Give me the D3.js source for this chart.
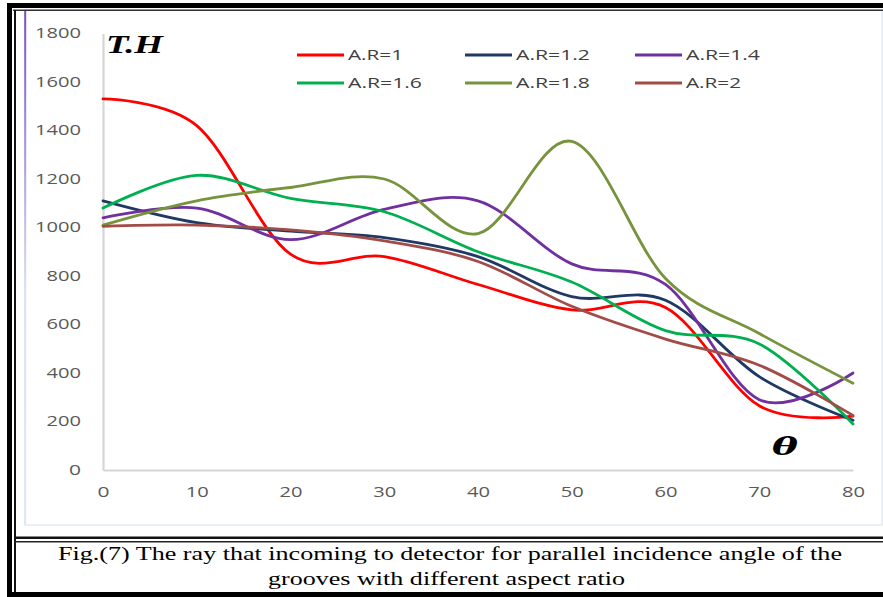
<!DOCTYPE html>
<html>
<head>
<meta charset="utf-8">
<script src="https://cdn.jsdelivr.net/npm/d3@7"></script>
<style>
  html, body { margin: 0; padding: 0; background: #fff; }
  svg { display: block; }
</style>
</head>
<body>
<svg id="chart" width="883" height="597"></svg>
<script>
// ---- data ----
const angles = [0, 10, 20, 30, 40, 50, 60, 70, 80];
const seriesNames = ["A.R=1", "A.R=1.2", "A.R=1.4", "A.R=1.6", "A.R=1.8", "A.R=2"];
const ar1  = [1530, 1420, 890, 880, 765, 660, 670, 265, 222];
const ar12 = [1110, 1020, 985, 958, 880, 715, 700, 385, 205];
const ar14 = [1040, 1080, 950, 1075, 1110, 850, 765, 290, 400];
const ar16 = [1080, 1215, 1120, 1065, 900, 775, 575, 520, 190];
const ar18 = [1010, 1110, 1165, 1200, 975, 1355, 790, 563, 358];
const ar2  = [1005, 1010, 990, 945, 860, 675, 540, 432, 225];
const yTicks = [0, 200, 400, 600, 800, 1000, 1200, 1400, 1600, 1800];
const xTicks = [0, 10, 20, 30, 40, 50, 60, 70, 80];
const yTitle = "T.H";
const xTitle = "\u03B8";
const captionLines = [
  "Fig.(7) The ray that incoming to detector for parallel incidence angle of the",
  "grooves with different aspect ratio"
];

const seriesValues = [ar1, ar12, ar14, ar16, ar18, ar2];
const colors = ["#ff0000", "#1f3864", "#7030a0", "#00b050", "#77933c", "#a24c48"];

const svg = d3.select("#chart");

// ---- frame ----
const defs = svg.append("defs");
const grad = defs.append("linearGradient").attr("id", "leftGrad")
  .attr("x1", 0).attr("y1", 0).attr("x2", 0).attr("y2", 1);
grad.append("stop").attr("offset", "0%").attr("stop-color", "#7b4fc4");
grad.append("stop").attr("offset", "25%").attr("stop-color", "#a78fd8");
grad.append("stop").attr("offset", "55%").attr("stop-color", "#dbe2f4");
grad.append("stop").attr("offset", "100%").attr("stop-color", "#dfe6f5");

// chart area border
svg.append("rect").attr("x", 25).attr("y", 10).attr("width", 857).attr("height", 515)
  .attr("fill", "none").attr("stroke", "#dde4f3").attr("stroke-width", 1.2);
svg.append("rect").attr("x", 24.2).attr("y", 10).attr("width", 2).attr("height", 515)
  .attr("fill", "url(#leftGrad)");

// outer black frame
svg.append("rect").attr("x", 7).attr("y", 3).attr("width", 876).attr("height", 5).attr("fill", "#000");
svg.append("rect").attr("x", 7).attr("y", 3).attr("width", 5).attr("height", 594).attr("fill", "#000");
svg.append("rect").attr("x", 13).attr("y", 9.5).attr("width", 870).attr("height", 1.5).attr("fill", "#333");
svg.append("rect").attr("x", 14).attr("y", 10).attr("width", 2).attr("height", 587).attr("fill", "#111");
svg.append("rect").attr("x", 7).attr("y", 592).attr("width", 876).attr("height", 5).attr("fill", "#000");
// caption separators
svg.append("rect").attr("x", 14).attr("y", 536.5).attr("width", 869).attr("height", 2.5).attr("fill", "#111");
svg.append("rect").attr("x", 14).attr("y", 541).attr("width", 869).attr("height", 1.5).attr("fill", "#222");

// ---- scales ----
const x = d3.scaleLinear().domain([0, 80]).range([103, 853]);
const y = d3.scaleLinear().domain([0, 1800]).range([470, 33.5]);

const tickFont = "'Open Sans', 'DejaVu Sans', sans-serif";

// y axis
const gy = svg.append("g").attr("transform", `translate(${x(0)},0)`)
  .call(d3.axisLeft(y).tickValues(yTicks).tickSize(0).tickPadding(22).tickFormat(d3.format("d")));
gy.select(".domain").attr("stroke", "#d6d6d6").attr("stroke-width", 2.2);
gy.selectAll("text")
  .attr("font-family", tickFont).attr("font-size", 14).attr("fill", "#595959")
  .attr("textLength", d => String(d).length === 1 ? 12 : String(d).length * 11.5)
  .attr("lengthAdjust", "spacingAndGlyphs");

// x axis
const gx = svg.append("g").attr("transform", `translate(0,${y(0)})`)
  .call(d3.axisBottom(x).tickValues(xTicks).tickSize(0).tickPadding(17).tickFormat(d3.format("d")));
gx.select(".domain").attr("stroke", "#d6d6d6").attr("stroke-width", 2.2);
gx.selectAll("text")
  .attr("font-family", tickFont).attr("font-size", 14).attr("fill", "#595959")
  .attr("textLength", d => String(d).length === 1 ? 12 : 23)
  .attr("lengthAdjust", "spacingAndGlyphs");

// ---- lines ----
const line = d3.line()
  .x((d, i) => x(angles[i]))
  .y(d => y(d))
  .curve(d3.curveCatmullRom.alpha(0));

svg.append("g").selectAll("path")
  .data(seriesValues)
  .join("path")
  .attr("d", d => line(d))
  .attr("fill", "none")
  .attr("stroke", (d, i) => colors[i])
  .attr("stroke-width", 2.8)
  .attr("stroke-linejoin", "round")
  .attr("stroke-linecap", "round");

// ---- axis titles ----
svg.append("text").attr("x", 106).attr("y", 53)
  .attr("font-family", "'Liberation Serif', 'DejaVu Serif', serif")
  .attr("font-weight", "bold").attr("font-style", "italic").attr("font-size", 25)
  .attr("fill", "#000").attr("textLength", 57).attr("lengthAdjust", "spacingAndGlyphs")
  .text(yTitle);
svg.append("text").attr("x", 772).attr("y", 455)
  .attr("font-family", "'DejaVu Serif', 'Liberation Serif', serif")
  .attr("font-weight", "bold").attr("font-style", "italic").attr("font-size", 25)
  .attr("fill", "#000").attr("textLength", 26).attr("lengthAdjust", "spacingAndGlyphs")
  .text(xTitle);

// ---- legend ----
const legX = [297, 465, 635];
const legY = [55, 83];
const leg = svg.append("g");
seriesNames.forEach((name, i) => {
  const col = i % 3, row = Math.floor(i / 3);
  const lx = legX[col], ly = legY[row];
  leg.append("line").attr("x1", lx).attr("x2", lx + 47).attr("y1", ly).attr("y2", ly)
    .attr("stroke", colors[i]).attr("stroke-width", 3);
  leg.append("text").attr("x", lx + 51).attr("y", ly + 5)
    .attr("font-family", tickFont).attr("font-size", 14).attr("fill", "#404040")
    .attr("textLength", name.length <= 5 ? 55 : 74).attr("lengthAdjust", "spacingAndGlyphs")
    .text(name);
});

// ---- caption ----
const capWidths = [784, 357];
const capCenters = [450, 446.5];
const capBase = [560, 585];
captionLines.forEach((t, i) => {
  svg.append("text").attr("x", capCenters[i]).attr("y", capBase[i])
    .attr("text-anchor", "middle")
    .attr("font-family", "'Liberation Serif', 'DejaVu Serif', serif")
    .attr("font-size", 18.5).attr("fill", "#000")
    .attr("textLength", capWidths[i]).attr("lengthAdjust", "spacingAndGlyphs")
    .text(t);
});
</script>
</body>
</html>
